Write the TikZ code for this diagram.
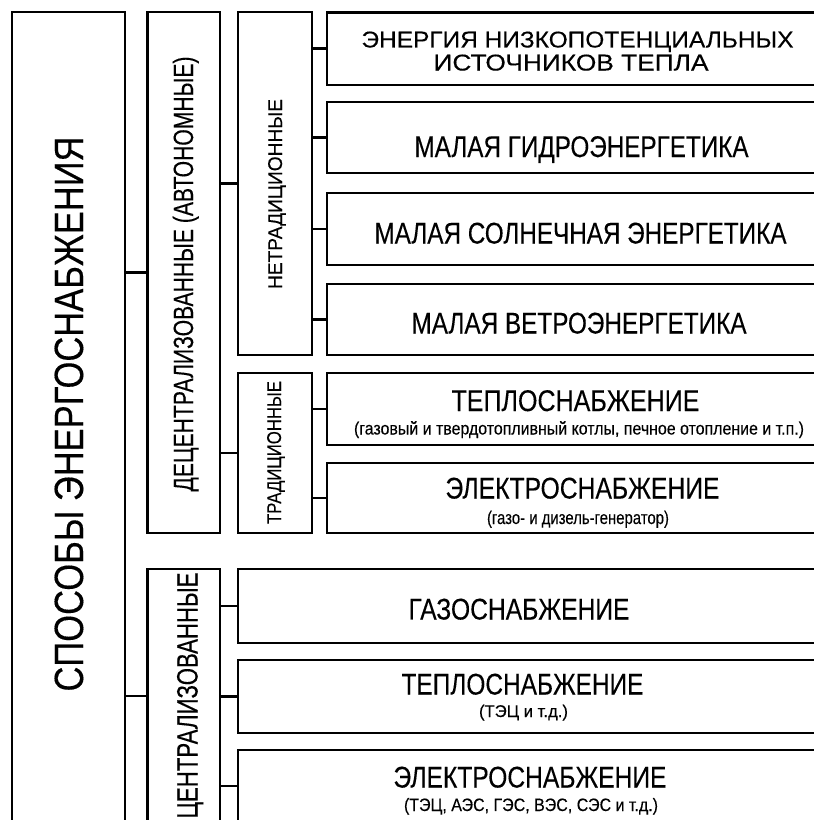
\documentclass[tikz,border=0pt]{standalone}
\usepackage{fontspec}
\setmainfont{Liberation Sans}
\newfontfamily\lblfont[FakeBold=0.25]{Liberation Sans}
\usepackage{graphicx}
% set a text line to a given width, keeping its height
\newcommand\fitto[2]{\resizebox{#1}{\height}{#2}}
\newcommand\fsz[1]{\lblfont\fontsize{#1}{#1}\selectfont}

\begin{document}
\begin{tikzpicture}[x=1bp,y=-1bp,
  frame/.style={draw, line width=2.8bp, rectangle, outer sep=0pt, inner sep=0pt},
  link/.style={line width=2.8bp},
  txt/.style={inner sep=0pt, outer sep=0pt, anchor=base},
  vtxt/.style={txt, rotate=90}]

\useasboundingbox (0,0) rectangle (814,820);
\fill[white] (0,0) rectangle (814,820);
\clip (0,0) rectangle (814,820);

% ---- left column ----
\node[frame, minimum width=113bp, minimum height=818bp] (main) at (68.5,421) {};
% ---- second column ----
\node[frame, minimum width=72.5bp, minimum height=521bp] (dec) at (183.75,272.5) {};
\node[frame, minimum width=72.5bp, minimum height=254bp] (cen) at (183.75,696) {};
% ---- third column ----
\node[frame, minimum width=74bp, minimum height=343bp] (non) at (275,183.5) {};
\node[frame, minimum width=74bp, minimum height=160bp] (tra) at (275,453) {};
% ---- right boxes ----
\node[frame, minimum width=503bp, minimum height=72.5bp] (r1) at (578.5,48.75) {};
\node[frame, minimum width=503bp, minimum height=71bp] (r2) at (578.5,137.5) {};
\node[frame, minimum width=503bp, minimum height=72bp] (r3) at (578.5,229) {};
\node[frame, minimum width=503bp, minimum height=71bp] (r4) at (578.5,319.5) {};
\node[frame, minimum width=503bp, minimum height=72bp] (r5) at (578.5,409) {};
\node[frame, minimum width=503bp, minimum height=70bp] (r6) at (578.5,498) {};
\node[frame, minimum width=592bp, minimum height=74bp] (r7) at (534,606) {};
\node[frame, minimum width=592bp, minimum height=73bp] (r8) at (534,696.5) {};
\node[frame, minimum width=592bp, minimum height=72bp] (r9) at (534,786) {};

% ---- connectors ----
\draw[link] (dec.west) -- (dec.west -| main.east);
\draw[link] (cen.west) -- (cen.west -| main.east);
\draw[link] (non.west) -- (non.west -| dec.east);
\draw[link] (tra.west) -- (tra.west -| dec.east);
\foreach \r in {r1,r2,r3,r4} \draw[link] (\r.west) -- (\r.west -| non.east);
\foreach \r in {r5,r6} \draw[link] (\r.west) -- (\r.west -| tra.east);
\foreach \r in {r7,r8,r9} \draw[link] (\r.west) -- (\r.west -| cen.east);

% ---- vertical labels ----
\node[vtxt] (vmain) at (83,414) {\fsz{41}\fitto{555bp}{СПОСОБЫ ЭНЕРГОСНАБЖЕНИЯ}};
\node[vtxt] (vdec) at (193,274) {\fsz{28}\fitto{435bp}{ДЕЦЕНТРАЛИЗОВАННЫЕ (АВТОНОМНЫЕ)}};
\node[vtxt] (vnon) at (282,194) {\fsz{20}\fitto{190bp}{НЕТРАДИЦИОННЫЕ}};
\node[vtxt] (vtra) at (281,452.5) {\fsz{20}\fitto{143bp}{ТРАДИЦИОННЫЕ}};
\node[vtxt] (vcen) at (197.5,695.5) {\fsz{29.5}\fitto{246bp}{ЦЕНТРАЛИЗОВАННЫЕ}};

% ---- box texts ----
\node[txt] (t1a) at (577.5,47.5) {\fsz{23}\fitto{432bp}{ЭНЕРГИЯ НИЗКОПОТЕНЦИАЛЬНЫХ}};
\node[txt] (t1b) at (571,70.5) {\fsz{23}\fitto{275bp}{ИСТОЧНИКОВ ТЕПЛА}};
\node[txt] (t2) at (581.5,157) {\fsz{30}\fitto{334bp}{МАЛАЯ ГИДРОЭНЕРГЕТИКА}};
\node[txt] (t3) at (580.5,243.5) {\fsz{30}\fitto{412bp}{МАЛАЯ СОЛНЕЧНАЯ ЭНЕРГЕТИКА}};
\node[txt] (t4) at (579,333.5) {\fsz{30}\fitto{335bp}{МАЛАЯ ВЕТРОЭНЕРГЕТИКА}};
\node[txt] (t5) at (575.5,411) {\fsz{30}\fitto{248bp}{ТЕПЛОСНАБЖЕНИЕ}};
\node[txt] (t5s) at (579,434.5) {\fsz{18}\fitto{450bp}{(газовый и твердотопливный котлы, печное отопление и т.п.)}};
\node[txt] (t6) at (582.5,498.5) {\fsz{30}\fitto{274bp}{ЭЛЕКТРОСНАБЖЕНИЕ}};
\node[txt] (t6s) at (578,524) {\fsz{18.5}\fitto{182bp}{(газо- и дизель-генератор)}};
\node[txt] (t7) at (519,619.5) {\fsz{30}\fitto{221bp}{ГАЗОСНАБЖЕНИЕ}};
\node[txt] (t8) at (522.5,694.5) {\fsz{30}\fitto{242bp}{ТЕПЛОСНАБЖЕНИЕ}};
\node[txt] (t8s) at (523.5,717) {\fsz{17}\fitto{89bp}{(ТЭЦ и т.д.)}};
\node[txt] (t9) at (530,787.5) {\fsz{30}\fitto{273bp}{ЭЛЕКТРОСНАБЖЕНИЕ}};
\node[txt] (t9s) at (531,811) {\fsz{18}\fitto{254bp}{(ТЭЦ, АЭС, ГЭС, ВЭС, СЭС и т.д.)}};
\end{tikzpicture}
\end{document}
